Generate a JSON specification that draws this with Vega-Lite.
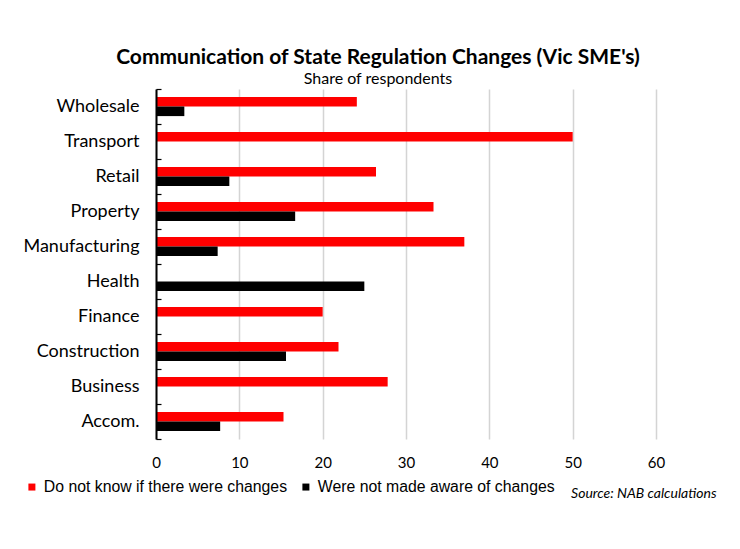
{
  "$schema": "https://vega.github.io/schema/vega-lite/v6.json",
  "width": 500,
  "height": 350,
  "autosize": {"type": "none"},
  "padding": {"left": 156, "top": 89, "right": 84, "bottom": 110},
  "background": "white",
  "title": {
    "text": "Communication of State Regulation Changes (Vic SME's)",
    "subtitle": "Share of respondents",
    "font": "Lato",
    "fontSize": 21,
    "fontWeight": "bold",
    "color": "#000000",
    "subtitleFont": "Lato",
    "subtitleFontSize": 16,
    "subtitleColor": "#000000",
    "subtitlePadding": 3,
    "anchor": "middle",
    "dx": -28,
    "offset": -7
  },
  "data": {
    "values": [
      {"sector": "Wholesale", "series": "Do not know if there were changes", "value": 24.1},
      {"sector": "Wholesale", "series": "Were not made aware of changes", "value": 3.4},
      {"sector": "Transport", "series": "Do not know if there were changes", "value": 50.0},
      {"sector": "Transport", "series": "Were not made aware of changes", "value": 0},
      {"sector": "Retail", "series": "Do not know if there were changes", "value": 26.4},
      {"sector": "Retail", "series": "Were not made aware of changes", "value": 8.8},
      {"sector": "Property", "series": "Do not know if there were changes", "value": 33.3},
      {"sector": "Property", "series": "Were not made aware of changes", "value": 16.7},
      {"sector": "Manufacturing", "series": "Do not know if there were changes", "value": 37.0},
      {"sector": "Manufacturing", "series": "Were not made aware of changes", "value": 7.4},
      {"sector": "Health", "series": "Do not know if there were changes", "value": 0},
      {"sector": "Health", "series": "Were not made aware of changes", "value": 25.0},
      {"sector": "Finance", "series": "Do not know if there were changes", "value": 20.0},
      {"sector": "Finance", "series": "Were not made aware of changes", "value": 0},
      {"sector": "Construction", "series": "Do not know if there were changes", "value": 21.9},
      {"sector": "Construction", "series": "Were not made aware of changes", "value": 15.6},
      {"sector": "Business", "series": "Do not know if there were changes", "value": 27.8},
      {"sector": "Business", "series": "Were not made aware of changes", "value": 0},
      {"sector": "Accom.", "series": "Do not know if there were changes", "value": 15.3},
      {"sector": "Accom.", "series": "Were not made aware of changes", "value": 7.7}
    ]
  },
  "mark": {"type": "bar"},
  "encoding": {
    "y": {
      "field": "sector",
      "type": "nominal",
      "sort": ["Wholesale", "Transport", "Retail", "Property", "Manufacturing", "Health", "Finance", "Construction", "Business", "Accom."],
      "scale": {"paddingInner": 0, "paddingOuter": 0},
      "axis": {
        "title": null,
        "grid": false,
        "zindex": 1,
        "domain": true,
        "domainColor": "#000000",
        "domainWidth": 2,
        "tickColor": "#000000",
        "tickWidth": 1.2,
        "tickSize": -5,
        "tickBand": "extent",
        "labelFont": "Lato",
        "labelFontSize": 18,
        "labelColor": "#000000",
        "labelPadding": 22
      }
    },
    "yOffset": {
      "field": "series",
      "type": "nominal",
      "sort": ["Do not know if there were changes", "Were not made aware of changes"],
      "scale": {"paddingInner": 0, "paddingOuter": 0.823}
    },
    "x": {
      "field": "value",
      "type": "quantitative",
      "scale": {"domain": [0, 60], "nice": false},
      "axis": {
        "values": [0, 10, 20, 30, 40, 50, 60],
        "domain": false,
        "ticks": false,
        "grid": true,
        "gridColor": "#d4d4d4",
        "gridWidth": 1.5,
        "labelFlush": false,
        "labelFont": "Lato",
        "labelFontSize": 15,
        "labelColor": "#000000",
        "labelPadding": 16,
        "title": "Source: NAB calculations",
        "titleFont": "Lato",
        "titleFontSize": 14,
        "titleFontStyle": "italic",
        "titleFontWeight": "normal",
        "titleColor": "#000000",
        "titleAnchor": "end",
        "titleAlign": "right",
        "titleBaseline": "middle",
        "titleX": 560,
        "titleY": 54
      }
    },
    "color": {
      "field": "series",
      "type": "nominal",
      "sort": ["Do not know if there were changes", "Were not made aware of changes"],
      "scale": {"range": ["#ff0000", "#000000"]},
      "legend": {
        "title": null,
        "orient": "none",
        "direction": "horizontal",
        "legendX": -132,
        "legendY": 390,
        "padding": 0,
        "symbolType": "square",
        "symbolSize": 49,
        "symbolStrokeWidth": 0,
        "labelFont": "Liberation Sans",
        "labelFontSize": 15.8,
        "labelLimit": 0,
        "labelColor": "#000000",
        "labelOffset": 4,
        "columnPadding": 10
      }
    }
  },
  "config": {
    "view": {"stroke": null}
  }
}
